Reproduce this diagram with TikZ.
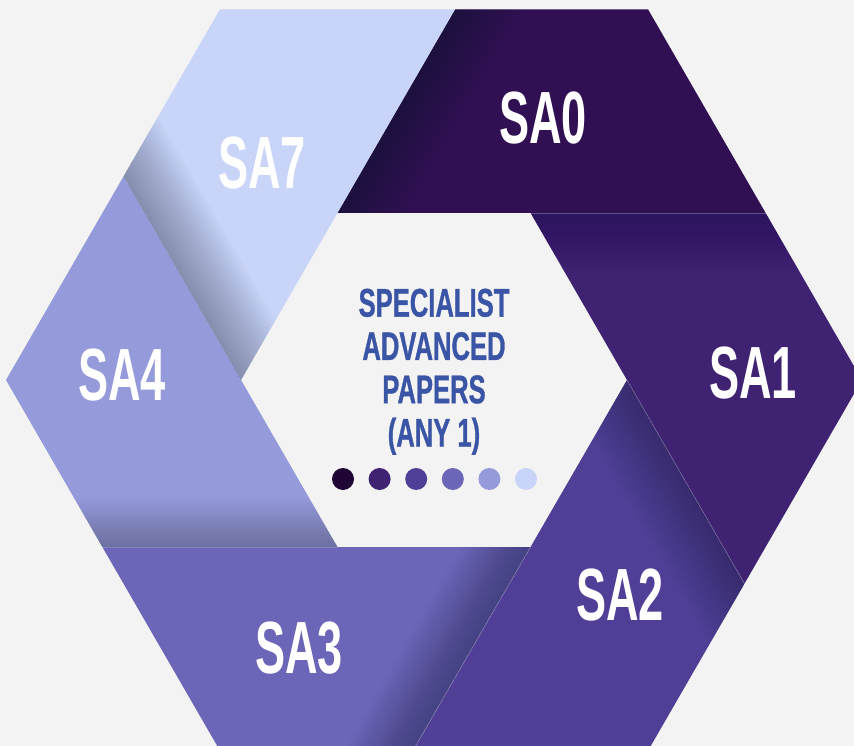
\documentclass[tikz,border=0pt]{standalone}
\usepackage{fontspec}
\newfontfamily\labfont{Liberation Sans}[FakeStretch=0.61]
\newfontfamily\ctrfont{Liberation Sans}[FakeStretch=0.64,FakeBold=0.8]
\usetikzlibrary{calc}
\definecolor{bg}{HTML}{F3F3F3}
\definecolor{cA}{HTML}{301052}
\definecolor{cB}{HTML}{3F2272}
\definecolor{cC}{HTML}{513F97}
\definecolor{cD}{HTML}{6B66B8}
\definecolor{cE}{HTML}{959ADA}
\definecolor{cF}{HTML}{C9D5F8}
\definecolor{cDot}{HTML}{1E0533}
\definecolor{ctext}{HTML}{3B55A6}
\definecolor{shadowcol}{HTML}{15152E}
\begin{document}
\begin{tikzpicture}[x=1pt,y=-1pt,
  lab/.style={text=white, font=\labfont\bfseries\fontsize{74}{74}\selectfont, inner sep=0pt},
  ctr/.style={text=ctext, font=\ctrfont\bfseries\fontsize{40}{43.3}\selectfont, align=center, inner sep=0pt},
  dot/.style={circle, minimum size=22pt, inner sep=0pt},
  seam/.style={white, line width=0.7pt, opacity=0.25}]
\fill[bg] (0,0) rectangle (854,746);
\useasboundingbox (0,0) rectangle (854,746);
% outer hexagon
\coordinate (L)  at (6,380);
\coordinate (TL) at (220,9.3);
\coordinate (TR) at (648,9.3);
\coordinate (Rv) at (862,380);
\coordinate (BR) at (648,750.7);
\coordinate (BL) at (220,750.7);
% inner hexagon
\coordinate (l)  at (241,380);
\coordinate (tl) at (337.5,212.9);
\coordinate (tr) at (530.5,212.9);
\coordinate (rv) at (627,380);
\coordinate (br) at (530.5,547.1);
\coordinate (bl) at (337.5,547.1);
% extension points
\coordinate (P0) at (765.6,212.9);
\coordinate (P1) at (744.5,583.6);
\coordinate (P2) at (412.9,750.7);
\coordinate (P3) at (102.4,547.1);
\coordinate (P4) at (123.5,176.4);
\coordinate (P5) at (455.1,9.3);
% segments
\fill[cA] (tl) -- (P5) -- (TR) -- (P0) -- cycle;
\fill[cB] (tr) -- (P0) -- (Rv) -- (P1) -- cycle;
\fill[cC] (rv) -- (P1) -- (BR) -- (P2) -- cycle;
\fill[cD] (br) -- (P2) -- (BL) -- (P3) -- cycle;
\fill[cE] (bl) -- (P3) -- (L) -- (P4) -- cycle;
\fill[cF] (l) -- (P4) -- (TL) -- (P5) -- cycle;
% shadows
\foreach \pa/\pb/\pc/\pd/\op/\st in {tl/P5/TR/P0/0.006/3, tr/P0/Rv/P1/0.009/3, rv/P1/BR/P2/0.018/3, br/P2/BL/P3/0.018/3, bl/P3/L/P4/0.016/2.4, l/P4/TL/P5/0.02/3}{
  \begin{scope}
    \clip (\pa) -- (\pb) -- (\pc) -- (\pd) -- cycle;
    \foreach \i in {1,...,20}{
      \draw[shadowcol, line width=\i*\st*2pt, draw opacity=\op] ($(\pa)!-1!(\pb)$) -- ($(\pa)!2!(\pb)$);
    }
  \end{scope}
}
% seams
\draw[seam] (tl) -- (P0);
\draw[seam] (rv) -- (P1);
\draw[seam] (br) -- (P2);
\draw[seam] (bl) -- (P3);
% labels
\node[lab] (t0) at (543,118) {SA0};
\node[lab] (t1) at (753,373) {SA1};
\node[lab] (t2) at (620,595) {SA2};
\node[lab] (t3) at (299,648) {SA3};
\node[lab] (t4) at (122,375) {SA4};
\node[lab] (t7) at (262,163) {SA7};
% centre
\node[ctr, anchor=north] (title) at (434,288.5) {SPECIALIST\\ADVANCED\\PAPERS\\(ANY 1)};
\node[dot, fill=cDot] (d1) at (343,479) {};
\node[dot, fill=cB] (d2) at (379.6,479) {};
\node[dot, fill=cC] (d3) at (416.2,479) {};
\node[dot, fill=cD] (d4) at (452.8,479) {};
\node[dot, fill=cE] (d5) at (489.4,479) {};
\node[dot, fill=cF] (d6) at (526,479) {};
\end{tikzpicture}
\end{document}
